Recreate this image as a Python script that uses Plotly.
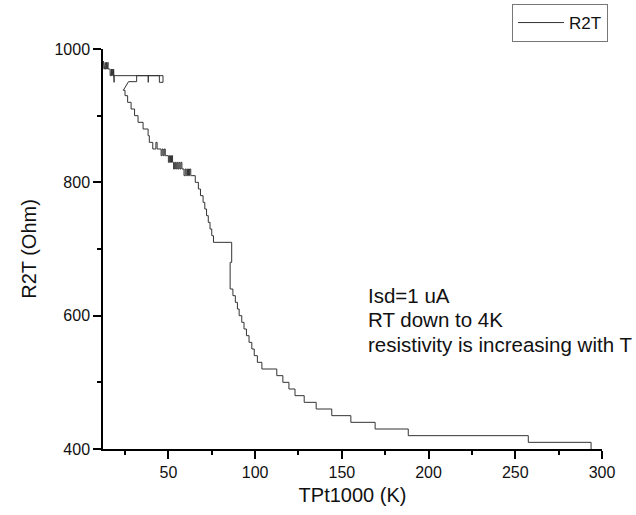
import plotly.graph_objects as go

# ---- data ----
# sweep from room temperature down; vertices of the measured trace
T_K = [
    293.7, 293.7, 257.5, 257.5, 188.3, 188.3, 169.2, 169.2, 155.2, 155.2,
    144.2, 144.2, 135.2, 135.2, 128.3, 128.3, 123.0, 123.0, 119.5, 119.5,
    116.0, 116.0, 112.5, 112.5, 103.9, 103.9, 101.3, 101.3, 99.5, 99.5,
    98.1, 98.1, 96.5, 96.5, 95.0, 95.0, 93.6, 93.6, 92.3, 92.3,
    90.8, 90.8, 89.8, 89.8, 88.6, 88.6, 87.2, 87.2, 85.6, 85.6,
    86.5, 86.5, 76.0, 76.0, 75.0, 75.0, 74.0, 74.0, 73.0, 73.0,
    72.0, 72.0, 71.0, 71.0, 70.0, 70.0, 68.5, 68.5, 67.3, 67.3,
    65.5, 65.5, 63.5, 63.5,
    62.9, 62.9, 62.2, 62.2, 61.6, 61.6, 61.0, 61.0, 60.3, 60.3,
    59.7, 59.7, 59.0, 59.0, 58.5, 58.5,
    57.8, 57.8, 57.2, 57.2, 56.6, 56.6, 56.0, 56.0, 55.4, 55.4,
    54.8, 54.8, 54.2, 54.2, 53.6, 53.6, 53.0, 53.0,
    52.4, 52.4, 51.8, 51.8, 51.2, 51.2, 50.6, 50.6, 50.0, 50.0,
    48.2, 48.2, 47.6, 47.6, 47.0, 47.0, 46.4, 46.4, 45.8, 45.8, 45.2, 45.2,
    43.5, 43.5, 42.8, 42.8, 41.0, 41.0, 40.0, 40.0, 39.0, 39.0,
    38.3, 38.3, 35.4, 35.4, 32.5, 32.5, 30.5, 30.5, 28.5, 28.5,
    26.5, 26.5, 25.0, 25.0, 24.0,
    27.0, 31.7, 31.7, 38.4, 38.4, 38.4, 44.8, 44.8, 46.9, 46.9,
    18.7, 18.7, 18.7,
    18.4, 18.4, 18.0, 18.0, 17.6, 17.6, 17.2, 17.2, 16.8, 16.8, 16.4, 16.4, 16.0, 16.0,
    15.2, 15.2,
    14.8, 14.8, 14.4, 14.4, 14.0, 14.0, 13.6, 13.6, 13.2, 13.2, 12.8, 12.8, 12.6,
]
R_Ohm = [
    400, 410, 410, 420, 420, 430, 430, 440, 440, 450,
    450, 460, 460, 470, 470, 480, 480, 490, 490, 500,
    500, 510, 510, 520, 520, 530, 530, 540, 540, 550,
    550, 560, 560, 570, 570, 580, 580, 590, 590, 600,
    600, 610, 610, 620, 620, 630, 630, 640, 640, 680,
    680, 710, 710, 720, 720, 730, 730, 740, 740, 750,
    750, 760, 760, 770, 770, 780, 780, 790, 790, 800,
    800, 810, 810, 810,
    810, 820, 820, 810, 810, 820, 820, 810, 810, 820,
    820, 810, 810, 820, 820, 820,
    820, 830, 830, 820, 820, 830, 830, 820, 820, 830,
    830, 820, 820, 830, 830, 820, 820, 830,
    830, 840, 840, 830, 830, 840, 840, 830, 830, 840,
    840, 850, 850, 840, 840, 850, 850, 840, 840, 850, 850, 850,
    850, 860, 860, 850, 850, 860, 860, 860, 860, 870,
    870, 880, 880, 890, 890, 900, 900, 910, 910, 920,
    920, 930, 930, 938, 938,
    951, 951, 960, 960, 950, 960, 960, 950, 950, 960,
    960, 950, 960,
    970, 960, 960, 970, 970, 960, 960, 970, 970, 960, 960, 970, 970, 970,
    970, 980,
    980, 970, 970, 980, 980, 970, 970, 980, 980, 970, 970, 980, 982,
]

x_ticks = [50, 100, 150, 200, 250, 300]
y_ticks = [400, 600, 800, 1000]
notes = ["Isd=1 uA", "RT down to 4K", "resistivity is increasing with T"]

FONT = "Liberation Sans, Arial, sans-serif"

fig = go.Figure()
fig.add_trace(go.Scatter(
    x=T_K, y=R_Ohm, mode="lines", name="R2T",
    line=dict(color="#333333", width=1),
))

axis_common = dict(
    showline=True, linecolor="black", linewidth=1.5,
    ticks="outside", ticklen=8, tickwidth=1.5, tickcolor="black",
    showgrid=False, zeroline=False, mirror=False,
    tickfont=dict(family=FONT, size=16, color="#111111"),
)

fig.update_xaxes(
    range=[12.3, 300], tickvals=x_ticks,
    minor=dict(ticks="outside", ticklen=4, tickwidth=1.5, dtick=25, tick0=0, tickcolor="black"),
    title=dict(text="TPt1000 (K)", font=dict(family=FONT, size=20, color="#111111"), standoff=8),
    **axis_common,
)
fig.update_yaxes(
    range=[400, 1000], tickvals=y_ticks,
    minor=dict(ticks="outside", ticklen=4, tickwidth=1.5, dtick=100, tick0=0, tickcolor="black"),
    title=dict(text="R2T (Ohm)", font=dict(family=FONT, size=20, color="#111111"), standoff=12),
    **axis_common,
)

ys = [0.385, 0.3235, 0.262]
for txt, yy in zip(notes, ys):
    fig.add_annotation(
        xref="paper", yref="paper", x=0.527, y=yy, xanchor="left", yanchor="middle",
        text=txt, showarrow=False, align="left",
        font=dict(family=FONT, size=20.5, color="#111111"),
    )

fig.update_layout(
    width=636, height=515,
    margin=dict(l=103, r=34, t=49, b=66, autoexpand=False),
    paper_bgcolor="white", plot_bgcolor="white",
    showlegend=True,
    legend=dict(
        x=1.012, y=1.1125, xanchor="right", yanchor="top",
        bordercolor="#777777", borderwidth=1, bgcolor="white",
        itemwidth=46, tracegroupgap=0,
        font=dict(family=FONT, size=17, color="#111111"),
    ),
)

fig.write_html("out.html")
